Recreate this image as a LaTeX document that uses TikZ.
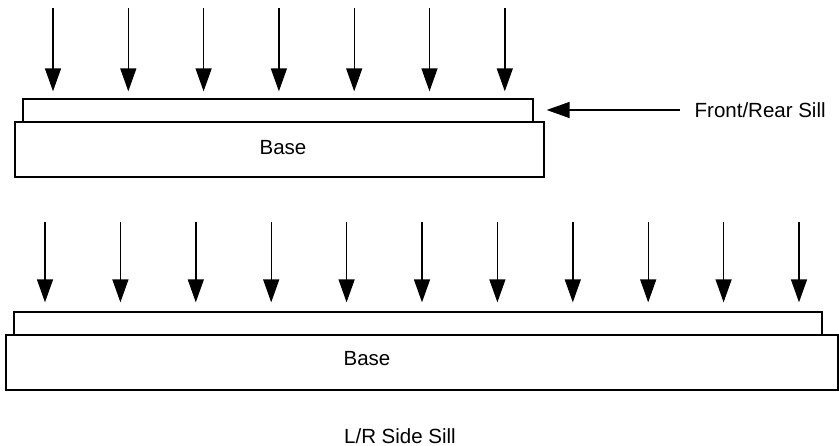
\documentclass[tikz,border=0pt]{standalone}
\usepackage{fontspec}
\setmainfont{Liberation Sans}
\usetikzlibrary{arrows.meta,calc,positioning}

\begin{document}
\begin{tikzpicture}[x=1pt, y=-1pt, line width=1.3pt,
    every node/.style={font=\fontsize{20.5}{24}\selectfont},
    slab/.style={draw, rectangle, inner sep=0pt},
    load/.style={-{Triangle[length=23pt, width=16pt]}, line width=1.4pt},
    txt/.style={inner sep=0pt}]
  \useasboundingbox (0,0) rectangle (839,446);
  % front/rear sill on its base
  \node[slab, minimum width=510pt, minimum height=23pt] (sillA) at (278,110.5) {};
  \node[slab, minimum width=529pt, minimum height=55pt] (baseA) at (279.5,149.5) {};
  \node[txt] (baseAtxt) at (283,148) {Base};
  % loads coming down on the front/rear sill
  \foreach \i in {0,...,6} {
    \coordinate (ta\i) at ({53+75.3*\i},8);
    \draw[load, shorten >=7pt] (ta\i) -- (ta\i |- sillA.north);
  }
  \node[txt, anchor=west] (frlabel) at (694,110) {Front/Rear Sill};
  \draw[load, shorten <=14pt, shorten >=13pt] (frlabel.west) -- (sillA.east |- frlabel.west);
  % side sill, longer, same build
  \node[slab, minimum width=808pt, minimum height=23pt] (sillB) at (418,323.5) {};
  \node[slab, minimum width=832pt, minimum height=55pt] (baseB) at (422,362.5) {};
  \node[txt] (baseBtxt) at (367,359) {Base};
  \foreach \i in {0,...,10} {
    \coordinate (tb\i) at ({45+75.4*\i},222);
    \draw[load, shorten >=9pt] (tb\i) -- (tb\i |- sillB.north);
  }
  \node[txt] (lrlabel) at (400,436) {L/R Side Sill};
\end{tikzpicture}
\end{document}
